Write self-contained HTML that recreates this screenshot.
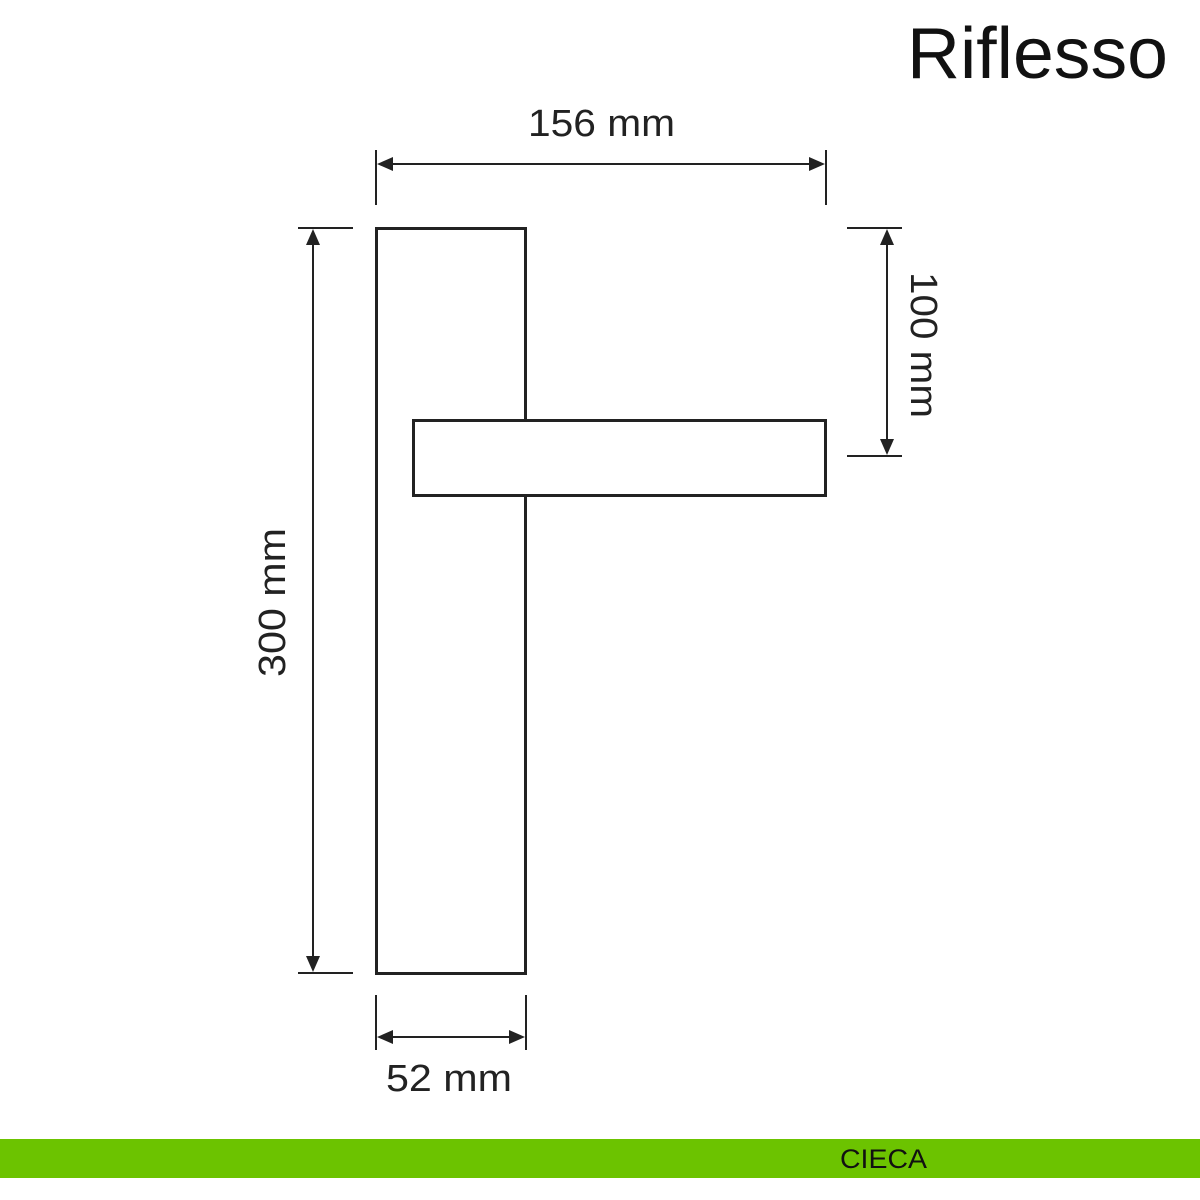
<!DOCTYPE html>
<html><head><style>body{margin:0;background:#fff}svg{display:block}</style></head><body>
<svg width="1200" height="1200" viewBox="0 0 1200 1200" xmlns="http://www.w3.org/2000/svg" font-family="Liberation Sans, sans-serif">
<rect width="1200" height="1200" fill="#fff"/>
<text x="1168" y="78" font-size="72" text-anchor="end" fill="#111" textLength="261" lengthAdjust="spacingAndGlyphs">Riflesso</text>
<g stroke="#222" stroke-width="2" fill="none">
<line x1="376" y1="150" x2="376" y2="205"/><line x1="826" y1="150" x2="826" y2="205"/>
<line x1="380" y1="164" x2="822" y2="164"/>
<line x1="298" y1="228" x2="353" y2="228"/><line x1="298" y1="973" x2="353" y2="973"/>
<line x1="313" y1="232" x2="313" y2="969"/>
<line x1="847" y1="228" x2="902" y2="228"/><line x1="847" y1="456" x2="902" y2="456"/>
<line x1="887" y1="232" x2="887" y2="452"/>
<line x1="376" y1="995" x2="376" y2="1050"/><line x1="526" y1="995" x2="526" y2="1050"/>
<line x1="380" y1="1037" x2="522" y2="1037"/>
</g>
<g fill="#222">
<polygon points="377,164 393,157 393,171"/><polygon points="825,164 809,157 809,171"/>
<polygon points="313,229 306,245 320,245"/><polygon points="313,972 306,956 320,956"/>
<polygon points="887,229 880,245 894,245"/><polygon points="887,455 880,439 894,439"/>
<polygon points="377,1037 393,1030 393,1044"/><polygon points="525,1037 509,1030 509,1044"/>
</g>
<rect x="376.5" y="228.5" width="149" height="745" fill="#fff" stroke="#222" stroke-width="3"/>
<rect x="413.5" y="420.5" width="412" height="75" fill="#fff" stroke="#222" stroke-width="3"/>
<g font-size="38" fill="#222">
<text x="528" y="136" textLength="147" lengthAdjust="spacingAndGlyphs">156 mm</text>
<text x="386" y="1091" textLength="126" lengthAdjust="spacingAndGlyphs">52 mm</text>
<text transform="translate(285,677) rotate(-90)" textLength="149" lengthAdjust="spacingAndGlyphs">300 mm</text>
<text transform="translate(911,272) rotate(90)" textLength="146" lengthAdjust="spacingAndGlyphs">100 mm</text>
</g>
<rect x="0" y="1139" width="1200" height="39" fill="#6cc300"/>
<text x="840" y="1168" font-size="27" fill="#111" textLength="87" lengthAdjust="spacingAndGlyphs">CIECA</text>
</svg>
</body></html>
